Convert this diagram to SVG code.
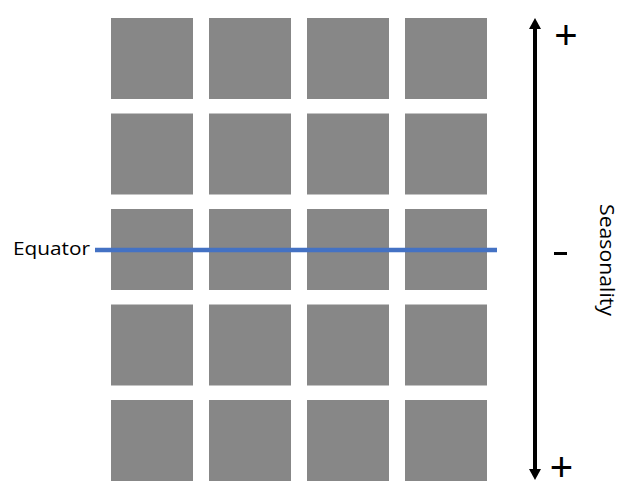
<svg xmlns="http://www.w3.org/2000/svg" width="637" height="501" viewBox="0 0 637 501">
<defs>
<style>
.cell{fill:#878787;}
.lbl{font-family:"Open Sans","Liberation Sans",sans-serif;fill:#000;}
.sign{font-family:"Liberation Sans",sans-serif;fill:#000;font-size:40px;text-anchor:middle;}
</style>
<marker id="ah" viewBox="0 0 11 12" refX="0" refY="6" markerWidth="11" markerHeight="12" markerUnits="userSpaceOnUse" orient="auto-start-reverse">
<path d="M0,0 L11,6 L0,12 Z" fill="#000"/>
</marker>
</defs>
<rect width="637" height="501" fill="#fff"/>
<g id="grid">
<g id="row1">
<rect class="cell" x="111" y="18" width="82" height="81"/>
<rect class="cell" x="209" y="18" width="82" height="81"/>
<rect class="cell" x="307" y="18" width="82" height="81"/>
<rect class="cell" x="405" y="18" width="82" height="81"/>
</g>
<g id="row2">
<rect class="cell" x="111" y="113.5" width="82" height="81"/>
<rect class="cell" x="209" y="113.5" width="82" height="81"/>
<rect class="cell" x="307" y="113.5" width="82" height="81"/>
<rect class="cell" x="405" y="113.5" width="82" height="81"/>
</g>
<g id="row3">
<rect class="cell" x="111" y="209" width="82" height="81"/>
<rect class="cell" x="209" y="209" width="82" height="81"/>
<rect class="cell" x="307" y="209" width="82" height="81"/>
<rect class="cell" x="405" y="209" width="82" height="81"/>
</g>
<g id="row4">
<rect class="cell" x="111" y="304.5" width="82" height="81"/>
<rect class="cell" x="209" y="304.5" width="82" height="81"/>
<rect class="cell" x="307" y="304.5" width="82" height="81"/>
<rect class="cell" x="405" y="304.5" width="82" height="81"/>
</g>
<g id="row5">
<rect class="cell" x="111" y="400" width="82" height="81"/>
<rect class="cell" x="209" y="400" width="82" height="81"/>
<rect class="cell" x="307" y="400" width="82" height="81"/>
<rect class="cell" x="405" y="400" width="82" height="81"/>
</g>
</g>
<g id="equator">
<line x1="95" y1="250" x2="497" y2="250" stroke="#4472C4" stroke-width="4.5"/>
<text class="lbl" x="13" y="255" font-size="18" textLength="77" lengthAdjust="spacingAndGlyphs">Equator</text>
</g>
<g id="connectors">
<line x1="535" y1="29" x2="535" y2="469" stroke="#000" stroke-width="4" marker-start="url(#ah)" marker-end="url(#ah)"/>
</g>
<g id="labels">
<text class="sign" x="566" y="49">+</text>
<text class="sign" x="561.5" y="481">+</text>
<rect x="554" y="252" width="13" height="3" fill="#000"/>
<text class="lbl" font-size="20" transform="translate(600,204) rotate(90)" textLength="112" lengthAdjust="spacingAndGlyphs">Seasonality</text>
</g>
</svg>
